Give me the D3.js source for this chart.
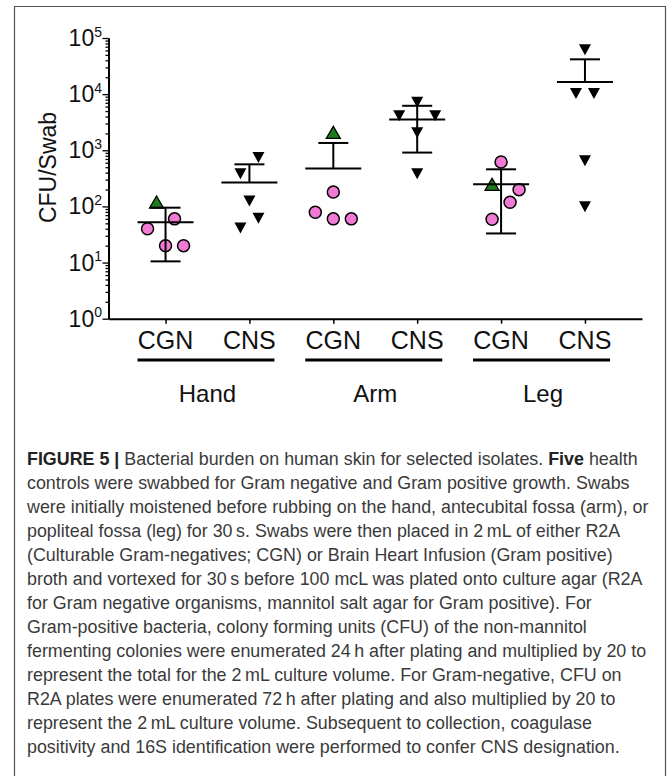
<!DOCTYPE html>
<html>
<head>
<meta charset="utf-8">
<script src="https://cdn.jsdelivr.net/npm/d3@7"></script>
<style>
  html, body { margin: 0; padding: 0; background: #fff; }
  svg { display: block; }
  text { font-family: "Liberation Sans", Arial, Helvetica, sans-serif; }
</style>
</head>
<body>
<div id="chart"></div>
<script>
// ---------------- data ----------------
const groups = ["Hand", "Arm", "Leg"];
const organisms = ["CGN", "CNS"];
const categories = ["Hand-CGN", "Hand-CNS", "Arm-CGN", "Arm-CNS", "Leg-CGN", "Leg-CNS"];

// individual swab counts (CFU/swab)
const handCGN = [115, 60, 40, 20, 20];
const handCNS = [760, 390, 128, 63, 42];
const armCGN  = [2000, 180, 79, 60, 60];
const armCNS  = [7300, 4200, 4200, 2100, 390];
const legCGN  = [620, 237, 199, 119, 59];
const legCNS  = [62800, 10500, 10500, 665, 101];

// marker kind per point: "tri" = green up triangle, "circ" = pink circle, "down" = black down triangle
const handCGNKind = ["tri", "circ", "circ", "circ", "circ"];
const armCGNKind  = ["tri", "circ", "circ", "circ", "circ"];
const legCGNKind  = ["circ", "tri", "circ", "circ", "circ"];

// horizontal scatter slot of each point (half-marker steps, as in the figure)
const handCGNSlot = [-1, 1, -2, 0, 2];
const handCNSSlot = [1, -1, 0, 1, -1];
const armCGNSlot  = [0, 0, -2, 0, 2];
const armCNSSlot  = [0, -2, 2, 0, 0];
const legCGNSlot  = [0, -1, 2, 1, -1];
const legCNSSlot  = [0, -1, 1, 0, 0];

// mean and error bar ends (null = bar not drawn on log axis)
const means      = [52, 268, 475, 3530, 247, 16400];
const errUpper   = [95, 562, 1350, 6200, 458, 41700];
const errLower   = [10.5, null, null, 910, 33, null];

const yMajor = [1, 10, 100, 1000, 10000, 100000];
const yMajorExp = ["0", "1", "2", "3", "4", "5"];
const yTitle = "CFU/Swab";

const captionLines = [
  [["FIGURE 5 | ", true], ["Bacterial burden on human skin for selected isolates. ", false], ["Five", true], [" health", false]],
  [["controls were swabbed for Gram negative and Gram positive growth. Swabs", false]],
  [["were initially moistened before rubbing on the hand, antecubital fossa (arm), or", false]],
  [["popliteal fossa (leg) for 30\u2009s. Swabs were then placed in 2\u2009mL of either R2A", false]],
  [["(Culturable Gram-negatives; CGN) or Brain Heart Infusion (Gram positive)", false]],
  [["broth and vortexed for 30\u2009s before 100 mcL was plated onto culture agar (R2A", false]],
  [["for Gram negative organisms, mannitol salt agar for Gram positive). For", false]],
  [["Gram-positive bacteria, colony forming units (CFU) of the non-mannitol", false]],
  [["fermenting colonies were enumerated 24\u2009h after plating and multiplied by 20 to", false]],
  [["represent the total for the 2\u2009mL culture volume. For Gram-negative, CFU on", false]],
  [["R2A plates were enumerated 72\u2009h after plating and also multiplied by 20 to", false]],
  [["represent the 2\u2009mL culture volume. Subsequent to collection, coagulase", false]],
  [["positivity and 16S identification were performed to confer CNS designation.", false]]
];

// ---------------- assemble ----------------
const seriesValues = [handCGN, handCNS, armCGN, armCNS, legCGN, legCNS];
const seriesKinds = [handCGNKind, handCNS.map(() => "down"), armCGNKind, armCNS.map(() => "down"), legCGNKind, legCNS.map(() => "down")];
const seriesSlots = [handCGNSlot, handCNSSlot, armCGNSlot, armCNSSlot, legCGNSlot, legCNSSlot];

const points = [];
categories.forEach((c, i) => {
  seriesValues[i].forEach((v, j) => points.push({cat: c, value: v, kind: seriesKinds[i][j], slot: seriesSlots[i][j]}));
});

const W = 672, H = 776;
const svg = d3.select("#chart").append("svg").attr("width", W).attr("height", H);

// frame
svg.append("path")
  .attr("d", `M14.5,${H + 5} L14.5,6.5 L665.5,6.5 L665.5,${H + 5}`)
  .attr("fill", "none").attr("stroke", "#555").attr("stroke-width", 1.2);

const x = d3.scalePoint().domain(categories).range([108.5, 642]).padding(0.68);
const y = d3.scaleLog().domain([1, 1e5]).range([318.7, 38]);

// y axis: minor ticks
const minor = [];
for (let k = 0; k < 5; k++) for (let m = 2; m <= 9; m++) minor.push(m * Math.pow(10, k));

const yAxisG = svg.append("g").attr("transform", "translate(108.5,0)");
yAxisG.call(d3.axisLeft(y).tickValues(minor).tickSize(3).tickSizeOuter(0).tickFormat(""));
yAxisG.append("g").call(d3.axisLeft(y).tickValues(yMajor).tickSize(6).tickSizeOuter(0).tickFormat(""));
yAxisG.selectAll("path.domain").attr("stroke", "#000").attr("stroke-width", 2);
yAxisG.selectAll(".tick line").attr("stroke", "#000").attr("stroke-width", 1.3);

// y tick labels with superscripts
const lab = svg.append("g");
yMajor.forEach((v, i) => {
  const t = lab.append("text")
    .attr("x", 102).attr("y", y(v) + 8)
    .attr("text-anchor", "end").attr("font-size", 23).attr("fill", "#111");
  t.append("tspan").text("10");
  t.append("tspan").attr("dy", -9.5).attr("font-size", 14).text(yMajorExp[i]);
});

// y title
svg.append("text")
  .attr("transform", "translate(56,167.5) rotate(-90)")
  .attr("text-anchor", "middle").attr("font-size", 23).attr("fill", "#111")
  .text(yTitle);

// x axis
const xAxisG = svg.append("g").attr("transform", "translate(0,318.7)");
xAxisG.call(d3.axisBottom(x).tickSize(5).tickSizeOuter(0).tickFormat(""));
xAxisG.select("path.domain").attr("stroke", "#000").attr("stroke-width", 2);
xAxisG.selectAll(".tick line").attr("stroke", "#000").attr("stroke-width", 1.5);

// category labels
categories.forEach((c, i) => {
  svg.append("text")
    .attr("x", x(c)).attr("y", 349)
    .attr("text-anchor", "middle").attr("font-size", 25).attr("fill", "#111")
    .text(organisms[i % 2]);
});

// group underline + labels
groups.forEach((g, gi) => {
  const cx = (x(categories[gi * 2]) + x(categories[gi * 2 + 1])) / 2;
  svg.append("line")
    .attr("x1", cx - 70).attr("x2", cx + 67).attr("y1", 360).attr("y2", 360)
    .attr("stroke", "#000").attr("stroke-width", 3);
  svg.append("text")
    .attr("x", cx).attr("y", 402)
    .attr("text-anchor", "middle").attr("font-size", 24).attr("fill", "#111")
    .text(g);
});

// points
const halfStep = 9;
const pg = svg.append("g");
points.forEach(p => {
  const px = x(p.cat) + p.slot * halfStep;
  const py = y(p.value);
  if (p.kind === "circ") {
    pg.append("circle").attr("cx", px).attr("cy", py).attr("r", 6)
      .attr("fill", "#f07ad4").attr("stroke", "#000").attr("stroke-width", 1.5);
  } else if (p.kind === "tri") {
    pg.append("path")
      .attr("d", `M${px},${py - 7} L${px + 7},${py + 5} L${px - 7},${py + 5} Z`)
      .attr("fill", "#1e7a1e").attr("stroke", "#000").attr("stroke-width", 1.3);
  } else {
    pg.append("path")
      .attr("d", `M${px - 6},${py - 5} L${px + 6},${py - 5} L${px},${py + 6} Z`)
      .attr("fill", "#000");
  }
});

// mean and error bars (drawn on top)
const eg = svg.append("g").attr("stroke", "#000").attr("stroke-width", 2);
categories.forEach((c, i) => {
  const cx = x(c);
  const top = y(errUpper[i]);
  const bot = errLower[i] == null ? y(means[i]) : y(errLower[i]);
  eg.append("line").attr("x1", cx).attr("x2", cx).attr("y1", top).attr("y2", bot);
  eg.append("line").attr("x1", cx - 15).attr("x2", cx + 15).attr("y1", top).attr("y2", top);
  if (errLower[i] != null)
    eg.append("line").attr("x1", cx - 15).attr("x2", cx + 15).attr("y1", bot).attr("y2", bot);
  eg.append("line").attr("x1", cx - 28).attr("x2", cx + 28).attr("y1", y(means[i])).attr("y2", y(means[i]));
});

// caption
const capG = svg.append("g");
const capX = 27, capY0 = 465, capDy = 24;
let fs = 17;
const capTexts = captionLines.map((parts, li) => {
  const t = capG.append("text").attr("x", capX).attr("y", capY0 + li * capDy)
    .attr("font-size", fs).attr("fill", "#3a3a3a");
  parts.forEach(([s, b]) => {
    const ts = t.append("tspan").text(s);
    if (b) ts.attr("font-weight", "bold").attr("fill", "#222");
  });
  return t;
});
// fit longest line to the caption width seen in the figure
const target = 622;
const longest = d3.max(capTexts, t => t.node().getComputedTextLength());
const newFs = fs * target / longest;
capTexts.forEach(t => t.attr("font-size", newFs));
</script>
</body>
</html>
